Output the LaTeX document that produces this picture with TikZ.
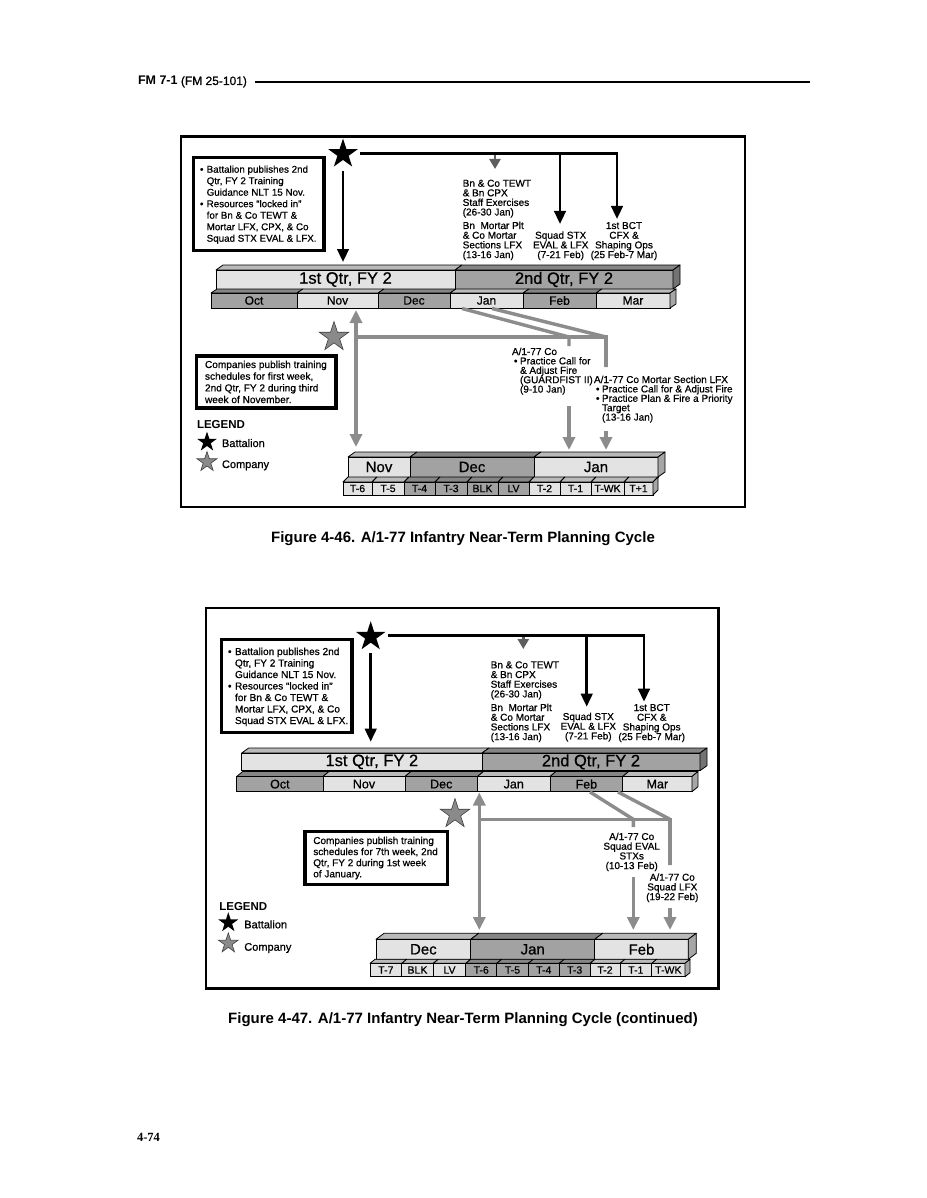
\documentclass[tikz,border=0pt]{standalone}
\usepackage{fontspec}
\setmainfont{Liberation Sans}[UprightFeatures={FakeBold=0.7}]
\newfontfamily\pnfont{Liberation Serif}
\usetikzlibrary{arrows.meta,shapes.geometric}
\definecolor{lt}{HTML}{E3E3E3}
\definecolor{dk}{HTML}{A2A2A2}
\definecolor{gline}{HTML}{8C8C8C}
\definecolor{dgline}{HTML}{5E5E5E}
\definecolor{gstar}{HTML}{8A8A8A}
\newcommand\fs[2]{\fontsize{#1}{#2}\selectfont\lineskiplimit=-20pt\relax}
\newcommand\mlL[1]{\vtop{\halign{##\hfil\cr#1\crcr}}}
\newcommand\mlC[1]{\vtop{\halign{\hfil##\hfil\cr#1\crcr}}}
\newcommand\bul[2]{\hbox to #1{\hskip#2\textbullet\hfil}}
\newcommand\nob[1]{\hbox to #1{}}
\newcommand\calrow[7]{%
  \foreach \a/\b/\t/\s [count=\i] in {#7} {%
    \filldraw[fill=\s!82!black, draw=black, line width=0.8pt, line join=round]
      (\a,#2) -- ({\a+#4},{#2-#5}) -- ({\b+#4},{#2-#5}) -- (\b,#2) -- cycle;
    \node[cell, fill=\s, font=#6, minimum width={\b-\a}, minimum height={#3-#2}]
      (#1\i) at ({(\a+\b)/2},{(#2+#3)/2}) {\t};
  }%
}
\newcommand\calside[6]{%
  \filldraw[fill=#6, draw=black, line width=0.8pt, line join=round]
    (#1,#2) -- ({#1+#4},{#2-#5}) -- ({#1+#4},{#3-#5}) -- (#1,#3) -- cycle;}
\begin{document}
\begin{tikzpicture}[x=1pt,y=-1pt,
  every node/.style={inner sep=0pt, outer sep=0pt},
  cell/.style={draw=black, line width=0.8pt, inner sep=0pt},
  frame/.style={draw=black, line width=2.4pt},
  tbox/.style={draw=black, line width=3.2pt, fill=white},
  bstar/.style={star, star points=5, star point ratio=2.618, fill=black, draw=none, inner sep=0pt, minimum size=31pt},
  gstarst/.style={star, star points=5, star point ratio=2.618, fill=gstar, draw=black!75, line width=0.6pt, inner sep=0pt, minimum size=31pt},
  blk/.style={draw=black, line width=2.7pt, line join=miter, -{Triangle[length=13pt,width=11.5pt]}},
  dgr/.style={draw=dgline, line width=2.5pt, -{Triangle[length=10pt,width=11pt]}},
  gln/.style={draw=gline, line width=3.4pt, line join=miter},
  garr/.style={gln, -{Triangle[length=13pt,width=12pt]}},
  gdbl/.style={gln, {Triangle[length=13pt,width=12pt]}-{Triangle[length=13pt,width=12pt]}},
  stxt/.style={font=\fs{10}{9.7}},
  lgtxt/.style={font=\fs{11}{13}},
  lghd/.style={font=\fs{11.5}{13}\bfseries},
  captxt/.style={font=\fs{15}{18}\bfseries}
]
\useasboundingbox[fill=white] (0,0) rectangle (926,1198);

% ---------- header ----------
\node[anchor=base west, font=\fs{12.5}{14}\bfseries] (hdA) at (138,85) {FM 7-1};
\node[anchor=base west, font=\fs{12}{14}] (hdB) at (hdA.base east) {\ (FM 25-101)};
\coordinate (rlS) at (255,82);
\coordinate (rlE) at (810,82);
\draw[line width=1.3pt] (rlS) -- (rlE);

% =================== FIGURE 4-46 ===================
\node[frame, minimum width=564, minimum height=370, anchor=north west] (frA) at (181,136.7) {};

\node[tbox, minimum width=130.7, minimum height=93, anchor=north west] (bbA) at (193.3,157.7) {};
\node[anchor=base west, font=\fs{9.8}{11.5}] (bbAt) at (200,172.7) {\mlL{%
\bul{6.7pt}{0pt}Battalion publishes 2nd\cr
\nob{6.7pt}Qtr, FY 2 Training\cr
\nob{6.7pt}Guidance NLT 15 Nov.\cr
\bul{6.7pt}{0pt}Resources “locked in”\cr
\nob{6.7pt}for Bn \& Co TEWT \&\cr
\nob{6.7pt}Mortar LFX, CPX, \& Co\cr
\nob{6.7pt}Squad STX EVAL \& LFX.}};

\node[bstar] (bsA) at (343,154) {};
\coordinate (bsAo) at (343,171);
\coordinate (bsAt) at (343,262);
\draw[blk] (bsAo) -- (bsAt);
\coordinate (hA0) at (360,153.5);
\coordinate (hA3) at (617,219);
\draw[blk] (hA0) -| (hA3);
\coordinate (hA2a) at (560,152.5);
\coordinate (hA2b) at (560,224);
\draw[blk] (hA2a) -- (hA2b);
\coordinate (hA1a) at (495,155);
\coordinate (hA1b) at (495,169);
\draw[dgr] (hA1a) -- (hA1b);

\node[anchor=base west, stxt, font=\fs{10}{9.6}] (tA1) at (462.7,186.7) {\mlL{Bn \& Co TEWT\cr \& Bn CPX\cr Staff Exercises\cr (26-30 Jan)}};
\node[anchor=base west, stxt] (tA2) at (462.7,229) {\mlL{Bn\ \ Mortar Plt\cr \& Co Mortar\cr Sections LFX\cr (13-16 Jan)}};
\node[anchor=base, stxt] (tA3) at (560.7,238.7) {\mlC{Squad STX\cr EVAL \& LFX\cr (7-21 Feb)}};
\node[anchor=base, stxt] (tA4) at (624,229) {\mlC{1st BCT\cr CFX \&\cr Shaping Ops\cr (25 Feb-7 Mar)}};

\calrow{fAq}{270}{289}{7}{5}{\fs{16.5}{18}}{216/455/{\hspace*{20pt}1st Qtr, FY 2}/lt, 455/673/{2nd Qtr, FY 2}/dk}
\calside{673}{270}{289}{7}{5}{black!55}
\calrow{fAm}{293}{308}{6}{4}{\fs{12}{14}}{211/297/Oct/dk, 297/378/Nov/lt, 378/450/Dec/dk, 450/523/Jan/lt, 523/596/Feb/dk, 596/670/Mar/lt}
\calside{670}{293}{308}{6}{4}{black!35}

% gray network
\coordinate (gA1) at (356,310);
\coordinate (gA2) at (356,447);
\draw[gdbl] (gA1) -- (gA2);
\coordinate (gA3) at (356,337);
\coordinate (gA4) at (606,367);
\draw[gln] (gA3) -| (gA4);
\coordinate (gA5) at (462,308.5);
\coordinate (gA6) at (569,337);
\coordinate (gA7) at (569,346);
\draw[gln] (gA5) -- (gA6) -- (gA7);
\coordinate (gA8) at (492,308.5);
\coordinate (gA9) at (606,337);
\draw[gln] (gA8) -- (gA9) -- (gA4);
\coordinate (gA10) at (569,406);
\coordinate (gA11) at (569,450);
\draw[garr] (gA10) -- (gA11);
\coordinate (gA12) at (606,431);
\coordinate (gA13) at (606,450);
\draw[garr] (gA12) -- (gA13);

\node[gstarst] (gsA) at (334,337) {};

\node[tbox, minimum width=139.3, minimum height=52, anchor=north west] (cbA) at (196.7,356) {};
\node[anchor=base west, font=\fs{10.1}{11.7}] (cbAt) at (205,368) {\mlL{Companies publish training\cr schedules for first week,\cr 2nd Qtr, FY 2 during third\cr week of November.}};

\node[anchor=base west, stxt, font=\fs{10}{9.4}] (tA5) at (512,355) {\mlL{A/1-77 Co\cr
\bul{8pt}{2pt}Practice Call for\cr
\nob{8pt}\& Adjust Fire\cr
\nob{8pt}(GUARDFIST II)\cr
\nob{8pt}(9-10 Jan)}};
\node[anchor=base west, stxt, font=\fs{10}{9.4}] (tA6) at (594,383) {\mlL{A/1-77 Co Mortar Section LFX\cr
\bul{8pt}{2pt}Practice Call for \& Adjust Fire\cr
\bul{8pt}{2pt}Practice Plan \& Fire a Priority\cr
\nob{8pt}Target\cr
\nob{8pt}(13-16 Jan)}};

\node[anchor=base west, lghd] (lgA) at (197,428) {LEGEND};
\node[bstar, minimum size=21pt] (lsA1) at (207,442) {};
\node[anchor=base west, lgtxt] (lgA1) at (222,447) {Battalion};
\node[gstarst, minimum size=21pt] (lsA2) at (207,462) {};
\node[anchor=base west, lgtxt] (lgA2) at (222,468) {Company};

\calrow{fAl}{457}{477}{7}{5}{\fs{15}{17}}{348/410/Nov/lt, 410/534/Dec/dk, 534/658/Jan/lt}
\calside{658}{457}{477}{7}{5}{black!35}
\calrow{fAw}{482}{495}{5}{5}{\fs{10.5}{12}}{343/372/T-6/lt, 372/404/T-5/lt, 404/435/T-4/dk, 435/467/T-3/dk, 467/498/BLK/dk, 498/529/LV/dk, 529/560/T-2/lt, 560/591/T-1/lt, 591/624/T-WK/lt, 624/653/T+1/lt}
\calside{653}{482}{495}{5}{5}{black!35}

\node[anchor=base, captxt] (capA) at (463,542) {Figure 4-46. A/1-77 Infantry Near-Term Planning Cycle};

% =================== FIGURE 4-47 ===================
\node[frame, minimum width=512.5, minimum height=380.8, anchor=north west] (frB) at (206,607.7) {};

\node[tbox, minimum width=130.3, minimum height=93.4, anchor=north west] (bbB) at (221.7,639.3) {};
\node[anchor=base west, font=\fs{10.1}{11.5}] (bbBt) at (228,655) {\mlL{%
\bul{7pt}{0pt}Battalion publishes 2nd\cr
\nob{7pt}Qtr, FY 2 Training\cr
\nob{7pt}Guidance NLT 15 Nov.\cr
\bul{7pt}{0pt}Resources “locked in”\cr
\nob{7pt}for Bn \& Co TEWT \&\cr
\nob{7pt}Mortar LFX, CPX, \& Co\cr
\nob{7pt}Squad STX EVAL \& LFX.}};

\node[bstar] (bsB) at (370.7,636.7) {};
\coordinate (bsBo) at (370.7,653);
\coordinate (bsBt) at (370.7,741.7);
\draw[blk] (bsBo) -- (bsBt);
\coordinate (hB0) at (388,635.7);
\coordinate (hB3) at (644,701.7);
\draw[blk] (hB0) -| (hB3);
\coordinate (hB2a) at (586.7,634.5);
\coordinate (hB2b) at (586.7,706.7);
\draw[blk] (hB2a) -- (hB2b);
\coordinate (hB1a) at (523.3,637);
\coordinate (hB1b) at (523.3,649);
\draw[dgr] (hB1a) -- (hB1b);

\node[anchor=base west, stxt] (tB1) at (490.7,668.3) {\mlL{Bn \& Co TEWT\cr \& Bn CPX\cr Staff Exercises\cr (26-30 Jan)}};
\node[anchor=base west, stxt] (tB2) at (490.7,711) {\mlL{Bn\ \ Mortar Plt\cr \& Co Mortar\cr Sections LFX\cr (13-16 Jan)}};
\node[anchor=base, stxt] (tB3) at (588.3,720) {\mlC{Squad STX\cr EVAL \& LFX\cr (7-21 Feb)}};
\node[anchor=base, stxt] (tB4) at (651.7,711) {\mlC{1st BCT\cr CFX \&\cr Shaping Ops\cr (25 Feb-7 Mar)}};

\calrow{fBq}{753}{770.7}{7}{5}{\fs{16.5}{18}}{241.7/482/{\hspace*{20pt}1st Qtr, FY 2}/lt, 482/700/{2nd Qtr, FY 2}/dk}
\calside{700}{753}{770.7}{7}{5}{black!55}
\calrow{fBm}{776.5}{791.7}{6}{5}{\fs{12.5}{14}}{236.7/323/Oct/dk, 323/405/Nov/lt, 405/477.5/Dec/dk, 477.5/550/Jan/lt, 550/622.7/Feb/dk, 622.7/692/Mar/lt}
\calside{692}{776.5}{791.7}{6}{5}{black!35}

% gray network
\coordinate (gB1) at (479.3,792.5);
\coordinate (gB2) at (479.3,930);
\draw[gdbl] (gB1) -- (gB2);
\coordinate (gB3) at (479.3,819.3);
\coordinate (gB4) at (670,865);
\draw[gln] (gB3) -| (gB4);
\coordinate (gB5) at (590,792);
\coordinate (gB6) at (633.3,819.3);
\coordinate (gB7) at (633.3,827);
\draw[gln] (gB5) -- (gB6) -- (gB7);
\coordinate (gB8) at (618,792);
\coordinate (gB9) at (670,819.3);
\draw[gln] (gB8) -- (gB9) -- (gB4);
\coordinate (gB10) at (633.3,877);
\coordinate (gB11) at (633.3,930);
\draw[garr] (gB10) -- (gB11);
\coordinate (gB12) at (670,908);
\coordinate (gB13) at (670,930);
\draw[garr] (gB12) -- (gB13);

\node[gstarst] (gsB) at (455,814) {};

\node[tbox, minimum width=142.7, minimum height=52.6, anchor=north west] (cbB) at (305,831.7) {};
\node[anchor=base west, font=\fs{10}{11.1}] (cbBt) at (313.3,844) {\mlL{Companies publish training\cr schedules for 7th week, 2nd\cr Qtr, FY 2 during 1st week\cr of January.}};

\node[anchor=base, stxt] (tB5) at (631.7,840) {\mlC{A/1-77 Co\cr Squad EVAL\cr STXs\cr (10-13 Feb)}};
\node[anchor=base, stxt] (tB6) at (672.3,880.7) {\mlC{A/1-77 Co\cr Squad LFX\cr (19-22 Feb)}};

\node[anchor=base west, lghd] (lgB) at (219.3,910.7) {LEGEND};
\node[bstar, minimum size=21pt] (lsB1) at (228.3,922.7) {};
\node[anchor=base west, lgtxt] (lgB1) at (244.3,928.3) {Battalion};
\node[gstarst, minimum size=21pt] (lsB2) at (228.3,943.3) {};
\node[anchor=base west, lgtxt] (lgB2) at (244.3,950.7) {Company};

\calrow{fBl}{939.3}{959.3}{8}{6}{\fs{15}{17}}{376/470.7/Dec/lt, 470.7/594.7/Jan/dk, 594.7/688.3/Feb/lt}
\calside{688.3}{939.3}{959.3}{8}{6}{black!35}
\calrow{fBw}{963.3}{976.7}{5}{4}{\fs{10.5}{12}}{370/401.7/T-7/lt, 401.7/433.3/BLK/lt, 433.3/465.7/LV/lt, 465.7/496.7/T-6/dk, 496.7/528.3/T-5/dk, 528.3/559.3/T-4/dk, 559.3/590/T-3/dk, 590/620/T-2/lt, 620/651.7/T-1/lt, 651.7/685/T-WK/lt}
\calside{685}{963.3}{976.7}{5}{4}{black!35}

\node[anchor=base, captxt] (capB) at (463,1023) {Figure 4-47. A/1-77 Infantry Near-Term Planning Cycle (continued)};

% page number
\node[anchor=base west, font=\pnfont\fs{12.5}{14}\bfseries] (pgn) at (137,1141) {4-74};
\end{tikzpicture}
\end{document}
